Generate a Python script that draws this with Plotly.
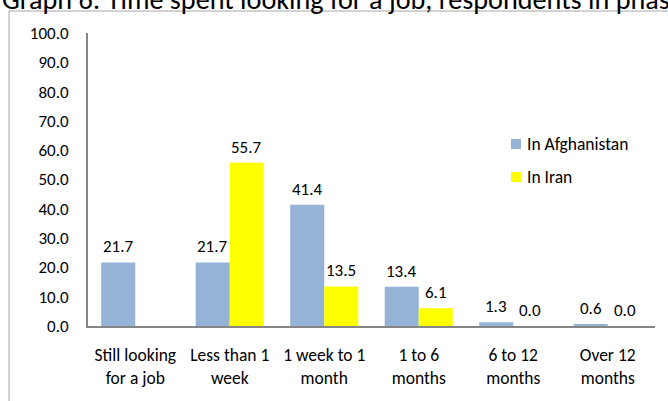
import plotly.graph_objects as go

categories = ["Still looking<br>for a job", "Less than 1<br>week", "1 week to 1<br>month",
              "1 to 6<br>months", "6 to 12<br>months", "Over 12<br>months"]
afghanistan = [21.7, 21.7, 41.4, 13.4, 1.3, 0.6]
iran = [None, 55.7, 13.5, 6.1, 0.0, 0.0]
series_names = ["In Afghanistan", "In Iran"]
colors = ["#95B3D7", "#FFFF00"]
y_ticks = [0, 10, 20, 30, 40, 50, 60, 70, 80, 90, 100]
title_text = "Graph 6: Time spent looking for a job, respondents in phase 1"

FONT = "Carlito, Lato, 'Open Sans', sans-serif"
PW, PH = 567, 293  # plot area size in px

fig = go.Figure()
for name, vals, col in zip(series_names, [afghanistan, iran], colors):
    fig.add_trace(go.Bar(
        x=list(range(len(categories))), y=vals, name=name,
        marker=dict(color=col, line=dict(width=0)),
        showlegend=False, hoverinfo="skip",
    ))

annotations = []
shapes = []
for si, vals in enumerate([afghanistan, iran]):
    off = -0.18 if si == 0 else 0.18
    for ci, v in enumerate(vals):
        if v is None:
            continue
        annotations.append(dict(
            x=ci + off, y=v, xref="x", yref="y", text=f"{v:.1f}",
            showarrow=False, yanchor="bottom", yshift=3,
            font=dict(family=FONT, size=17, color="#000000"),
        ))

# legend (square + label), placed at the reference legend position
for li, (name, col) in enumerate(zip(series_names, colors)):
    cy = 144 + li * 33  # px from figure top
    py = (326 - cy) / PH
    shapes.append(dict(type="rect", xref="paper", yref="paper",
                       x0=(511 - 88) / PW, x1=(521 - 88) / PW,
                       y0=py - 5 / PH, y1=py + 5 / PH,
                       fillcolor=col, line=dict(width=0)))
    annotations.append(dict(x=(525 - 88) / PW, y=py, xref="paper", yref="paper",
                            xanchor="left", yanchor="middle", text=name,
                            showarrow=False,
                            font=dict(family=FONT, size=17.5, color="#000000")))

annotations.append(dict(
    x=-88 / PW, xref="paper", xanchor="left",
    y=1 + 33 / PH, yref="paper", yanchor="middle", yshift=1,
    text=title_text, showarrow=False,
    font=dict(family=FONT, size=28.2, color="#000000"),
))

shapes += [
    dict(type="line", xref="paper", yref="paper",
         x0=-79 / PW, x1=1 + 20 / PW, y0=1 + 22 / PH, y1=1 + 22 / PH,
         line=dict(color="#A6A6A6", width=1)),
    dict(type="line", xref="paper", yref="paper",
         x0=-79 / PW, x1=-79 / PW, y0=1 + 22 / PH, y1=-80 / PH,
         line=dict(color="#A6A6A6", width=1)),
]

fig.update_layout(
    width=668, height=401,
    margin=dict(l=88, r=13, t=33, b=75, autoexpand=False),
    paper_bgcolor="white", plot_bgcolor="white",
    barmode="group", bargap=0.28, bargroupgap=0,
    font=dict(family=FONT, size=17, color="#000000"),
    showlegend=False, hovermode=False,
    annotations=annotations,
    shapes=shapes,
)
fig.update_xaxes(
    tickmode="array", tickvals=list(range(len(categories))), ticktext=categories,
    range=[-0.5, len(categories) - 0.5], automargin=False,
    showline=True, linecolor="#868686", linewidth=2,
    showgrid=False, zeroline=False,
    ticks="outside", ticklen=12, tickcolor="rgba(0,0,0,0)",
    tickfont=dict(family=FONT, size=17.5, color="#000000"),
)
fig.update_yaxes(
    range=[0, 100], tickvals=y_ticks, ticktext=[f"{t:.1f}" for t in y_ticks],
    automargin=False,
    showline=True, linecolor="#868686", linewidth=2,
    showgrid=False, zeroline=False,
    ticks="outside", ticklen=14, tickcolor="rgba(0,0,0,0)",
    tickfont=dict(family=FONT, size=17, color="#000000"),
)

fig.write_html("out.html", config={"displayModeBar": False},
               post_script="document.body.style.margin='0';document.body.style.overflow='hidden';")
